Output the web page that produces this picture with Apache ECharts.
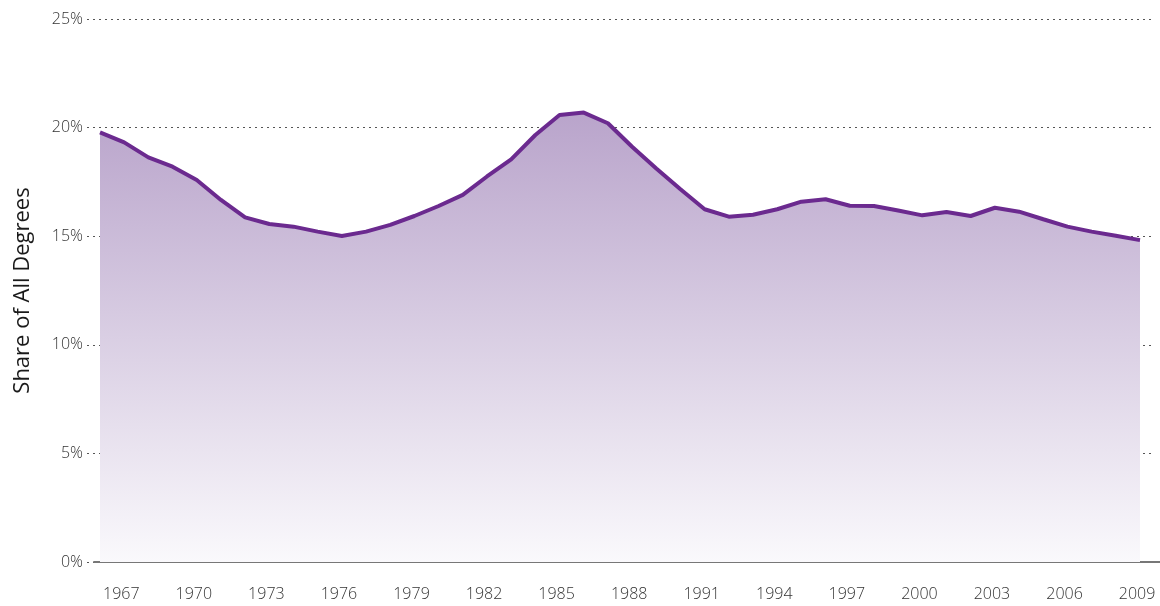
<!DOCTYPE html>
<html>
<head>
<meta charset="utf-8">
<script src="https://cdn.jsdelivr.net/npm/echarts@6/dist/echarts.min.js"></script>
<style>
  html, body { margin: 0; padding: 0; background: #fff; }
  #chart { width: 1160px; height: 606px; }
</style>
</head>
<body>
<div id="chart"></div>
<script>
// years and share of all degrees (%)
var years = ['1967','1968','1969','1970','1971','1972','1973','1974','1975','1976',
             '1977','1978','1979','1980','1981','1982','1983','1984','1985','1986',
             '1987','1988','1989','1990','1991','1992','1993','1994','1995','1996',
             '1997','1998','1999','2000','2001','2002','2003','2004','2005','2006',
             '2007','2008','2009','2010'];
var share = [19.78, 19.32, 18.63, 18.20, 17.59, 16.67, 15.87, 15.56, 15.44, 15.21,
             15.01, 15.21, 15.52, 15.93, 16.39, 16.90, 17.75, 18.54, 19.66, 20.58,
             20.69, 20.20, 19.12, 18.12, 17.16, 16.24, 15.90, 15.99, 16.24, 16.59,
             16.70, 16.40, 16.39, 16.18, 15.96, 16.11, 15.93, 16.31, 16.13, 15.78,
             15.44, 15.21, 15.02, 14.82];
var yTicks = [0, 25, 5]; // min, max, step

var chart = echarts.init(document.getElementById('chart'));
var font = '"Open Sans", "Noto Sans", sans-serif';

var option = {
  animation: false,
  textStyle: { fontFamily: font },
  grid: [
    // frame: y labels and dotted gridlines
    { left: 87, right: 8, top: 19, bottom: 44 },
    // base line at 0%
    { left: 94, right: 0, top: 19, bottom: 44 },
    // data
    { left: 100, right: 20, top: 19, bottom: 44 }
  ],
  xAxis: [
    { gridIndex: 0, type: 'category', data: years, show: false },
    {
      gridIndex: 1, type: 'category', data: years,
      axisLine: { show: true, lineStyle: { color: '#777', width: 2 } },
      axisTick: { show: false }, axisLabel: { show: false }, splitLine: { show: false }
    },
    {
      gridIndex: 2, type: 'category', data: years, boundaryGap: false,
      axisLine: { show: false }, axisTick: { show: false },
      axisLabel: {
        interval: 2, align: 'left', margin: 24, padding: [0, 0, 0, 3],
        fontSize: 16, color: '#333', fontFamily: font, fontWeight: 300
      },
      splitLine: { show: false }
    }
  ],
  yAxis: [
    {
      gridIndex: 0, type: 'value', min: yTicks[0], max: yTicks[1], interval: yTicks[2],
      name: 'Share of All Degrees', nameLocation: 'middle', nameGap: 53,
      nameTextStyle: { fontSize: 22, color: '#1a1a1a', fontFamily: font },
      axisLine: { show: false }, axisTick: { show: false },
      axisLabel: {
        formatter: '{value}%', margin: 4,
        fontSize: 16, color: '#333', fontFamily: font, fontWeight: 300
      },
      splitLine: { show: true, lineStyle: { color: '#555', type: [2, 4], width: 1 } }
    },
    { gridIndex: 1, type: 'value', min: yTicks[0], max: yTicks[1], show: false },
    { gridIndex: 2, type: 'value', min: yTicks[0], max: yTicks[1], show: false }
  ],
  series: [
    {
      type: 'line',
      xAxisIndex: 2, yAxisIndex: 2,
      data: share,
      symbol: 'none',
      z: 3,
      lineStyle: { color: '#6b2a8f', width: 4 },
      areaStyle: {
        opacity: 1,
        color: new echarts.graphic.LinearGradient(0, 0, 0, 1, [
          { offset: 0, color: '#b9a4cb' },
          { offset: 1, color: '#faf9fc' }
        ])
      }
    }
  ]
};

chart.setOption(option);
</script>
</body>
</html>
